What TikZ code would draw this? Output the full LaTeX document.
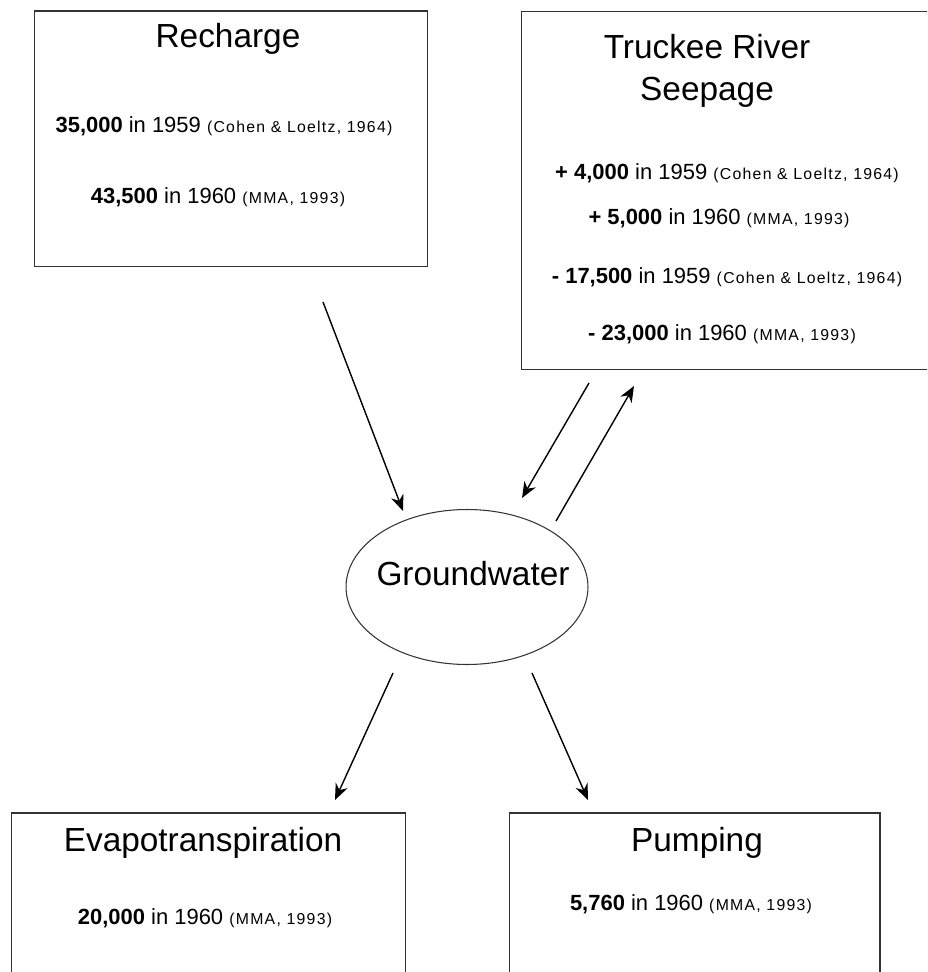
\documentclass[tikz,border=0pt]{standalone}
\usepackage{fontspec}
\setmainfont{Liberation Sans}
\newfontfamily\citefont[LetterSpace=8]{Liberation Sans}
\usetikzlibrary{arrows.meta, shapes.geometric}

% one budget line: value, year, source
\newcommand{\fluxline}[3]{\textbf{#1} in #2 {\citefont\fontsize{9}{11}\selectfont(#3)}}

\begin{document}
\begin{tikzpicture}[x=0.02cm, y=-0.02cm, >={Stealth[length=0.32cm, width=0.26cm]},
  box/.style={draw=black!80, line width=0.6pt, inner sep=0pt},
  title/.style={font=\fontsize{19}{24}\selectfont, align=center},
  amount/.style={font=\fontsize{12.5}{14}\selectfont},
  flow/.style={->, line width=0.8pt}]

\useasboundingbox (0,0) rectangle (927,972);
\clip (0,0) rectangle (927,972);

% Recharge box (top left)
\node[box, minimum width=7.88cm, minimum height=5.12cm] (recharge) at (231,139) {};
\node[title] (rchtitle) at (228,39) {Recharge};
\node[amount] (rch59) at (224,126) {\fluxline{35,000}{1959}{Cohen \& Loeltz, 1964}};
\node[amount] (rch60) at (218,197) {\fluxline{43,500}{1960}{MMA, 1993}};

% Truckee River box (top right, runs off the page)
\node[box, minimum width=8.28cm, minimum height=7.18cm] (seepage) at (728,190.5) {};
\node[title] (seeptitle) at (707,71) {Truckee River\\Seepage};
\node[amount] (seepa) at (727,173) {\fluxline{+ 4,000}{1959}{Cohen \& Loeltz, 1964}};
\node[amount] (seepb) at (719,218) {\fluxline{+ 5,000}{1960}{MMA, 1993}};
\node[amount] (seepc) at (727,277) {\fluxline{- 17,500}{1959}{Cohen \& Loeltz, 1964}};
\node[amount] (seepd) at (722,334) {\fluxline{- 23,000}{1960}{MMA, 1993}};

% Groundwater in the middle
\node[ellipse, draw=black!80, line width=0.6pt, minimum width=4.84cm, minimum height=3.1cm] (gw) at (467,587) {};
\node[title] (gwtitle) at (473,574) {Groundwater};

% Evapotranspiration box (bottom left)
\node[box, minimum width=7.9cm, minimum height=3.6cm] (evap) at (208.5,903) {};
\node[title] (evaptitle) at (203,843) {Evapotranspiration};
\node[amount] (evap60) at (205,918) {\fluxline{20,000}{1960}{MMA, 1993}};

% Pumping box (bottom right)
\node[box, minimum width=7.42cm, minimum height=3.6cm] (pump) at (694.5,903) {};
\node[title] (pumptitle) at (697,843) {Pumping};
\node[amount] (pump60) at (691,904) {\fluxline{5,760}{1960}{MMA, 1993}};

% arrow ends
\coordinate (rch-out) at (323,302);
\coordinate (gw-in1) at (403,511);
\coordinate (seep-out) at (589,383);
\coordinate (gw-in2) at (522,498);
\coordinate (gw-out1) at (556,521);
\coordinate (seep-in) at (634,386);
\coordinate (gw-out2) at (393,673);
\coordinate (evap-in) at (335,800);
\coordinate (gw-out3) at (532,673);
\coordinate (pump-in) at (588,800);

\draw[flow] (rch-out) -- (gw-in1);
\draw[flow] (seep-out) -- (gw-in2);
\draw[flow] (gw-out1) -- (seep-in);
\draw[flow] (gw-out2) -- (evap-in);
\draw[flow] (gw-out3) -- (pump-in);

\end{tikzpicture}
\end{document}
